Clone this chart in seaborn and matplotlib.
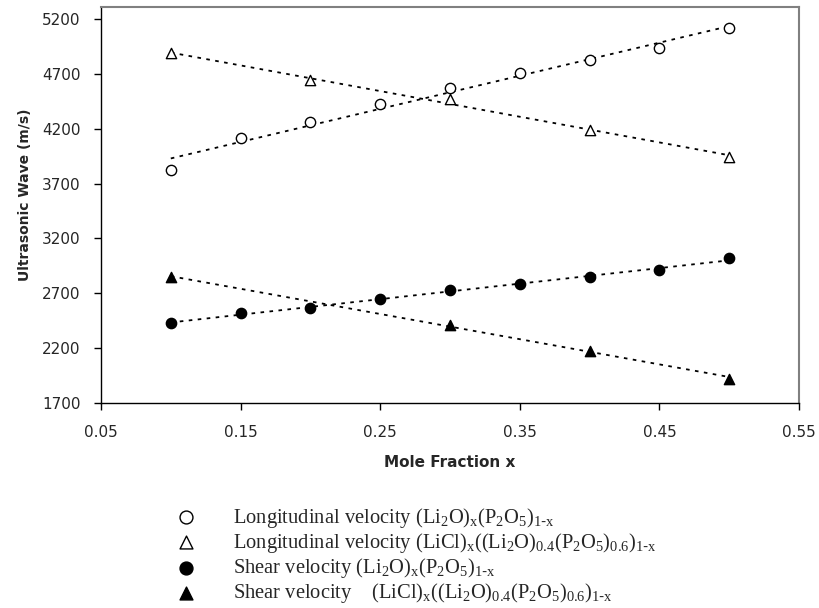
import numpy as np
import seaborn as sns
import matplotlib.pyplot as plt

# mole fraction x
x_li2o = [0.10, 0.15, 0.20, 0.25, 0.30, 0.35, 0.40, 0.45, 0.50]
x_licl = [0.10, 0.20, 0.30, 0.40, 0.50]
x_licl_shear = [0.10, 0.30, 0.40, 0.50]

# ultrasonic velocities (m/s)
long_li2o = [3824, 4115, 4264, 4428, 4571, 4710, 4826, 4933, 5121]
long_licl = [4887, 4644, 4468, 4188, 3945]
shear_li2o = [2432, 2518, 2563, 2645, 2730, 2785, 2851, 2912, 3019]
shear_licl = [2846, 2411, 2177, 1922]

xticks = [0.05, 0.15, 0.25, 0.35, 0.45, 0.55]
yticks = [1700, 2200, 2700, 3200, 3700, 4200, 4700, 5200]

labels = [
    r"Longitudinal velocity (Li$_2$O)$_x$(P$_2$O$_5$)$_{1\text{-}x}$",
    r"Longitudinal velocity (LiCl)$_x$((Li$_2$O)$_{0.4}$(P$_2$O$_5$)$_{0.6}$)$_{1\text{-}x}$",
    r"Shear velocity (Li$_2$O)$_x$(P$_2$O$_5$)$_{1\text{-}x}$",
    r"Shear velocity    (LiCl)$_x$((Li$_2$O)$_{0.4}$(P$_2$O$_5$)$_{0.6}$)$_{1\text{-}x}$",
]

sns.set_style("ticks")
plt.rcParams["font.family"] = ["DejaVu Sans"]
plt.rcParams["mathtext.default"] = "regular"

fig = plt.figure(figsize=(8.19, 6.08), dpi=100)
ax = fig.add_axes([0.1233, 0.3372, 0.8523, 0.6513])

series = [
    (x_li2o, long_li2o, "o", "white"),
    (x_licl, long_licl, "^", "white"),
    (x_li2o, shear_li2o, "o", "black"),
    (x_licl_shear, shear_licl, "^", "black"),
]
for (xs, ys, mk, fc), lab in zip(series, labels):
    sns.regplot(x=np.array(xs), y=np.array(ys), ax=ax, ci=None, marker=mk,
                color="black", label=lab,
                scatter_kws=dict(s=55, facecolors=fc, edgecolors="black",
                                 linewidths=1, alpha=1, zorder=3),
                line_kws=dict(color="black", lw=1.3, ls=(0, (2, 3))))

ax.set_xlim(0.05, 0.55)
ax.set_ylim(1700, 5310)
ax.set_xticks(xticks)
ax.set_xticklabels([f"{v:.2f}" for v in xticks])
ax.set_yticks(yticks)
ax.tick_params(axis="both", labelsize=11, length=5, width=1, color="black")
ax.tick_params(axis="x", pad=10.5)
ax.tick_params(axis="y", pad=9.5)
for side in ["top", "right"]:
    ax.spines[side].set_color("#808080")
    ax.spines[side].set_linewidth(1.5)
for side in ["left", "bottom"]:
    ax.spines[side].set_color("black")
    ax.spines[side].set_linewidth(1)

ax.set_xlabel("Mole Fraction x", fontsize=11, fontweight="bold", labelpad=11)
ax.set_ylabel("Ultrasonic Wave (m/s)", fontsize=10, fontweight="bold")
ax.yaxis.set_label_coords(-0.099, 0.5265)

handles, labs = ax.get_legend_handles_labels()
fig.legend(handles, labs, loc="upper left", bbox_to_anchor=(0.2143, 0.168),
           frameon=False, prop=dict(family="Liberation Serif", size=14.8),
           handlelength=1.0, handletextpad=1.8, labelspacing=0.05,
           markerscale=1.25, borderpad=0, borderaxespad=0, scatterpoints=1)

fig.savefig("out.png", dpi=100)
